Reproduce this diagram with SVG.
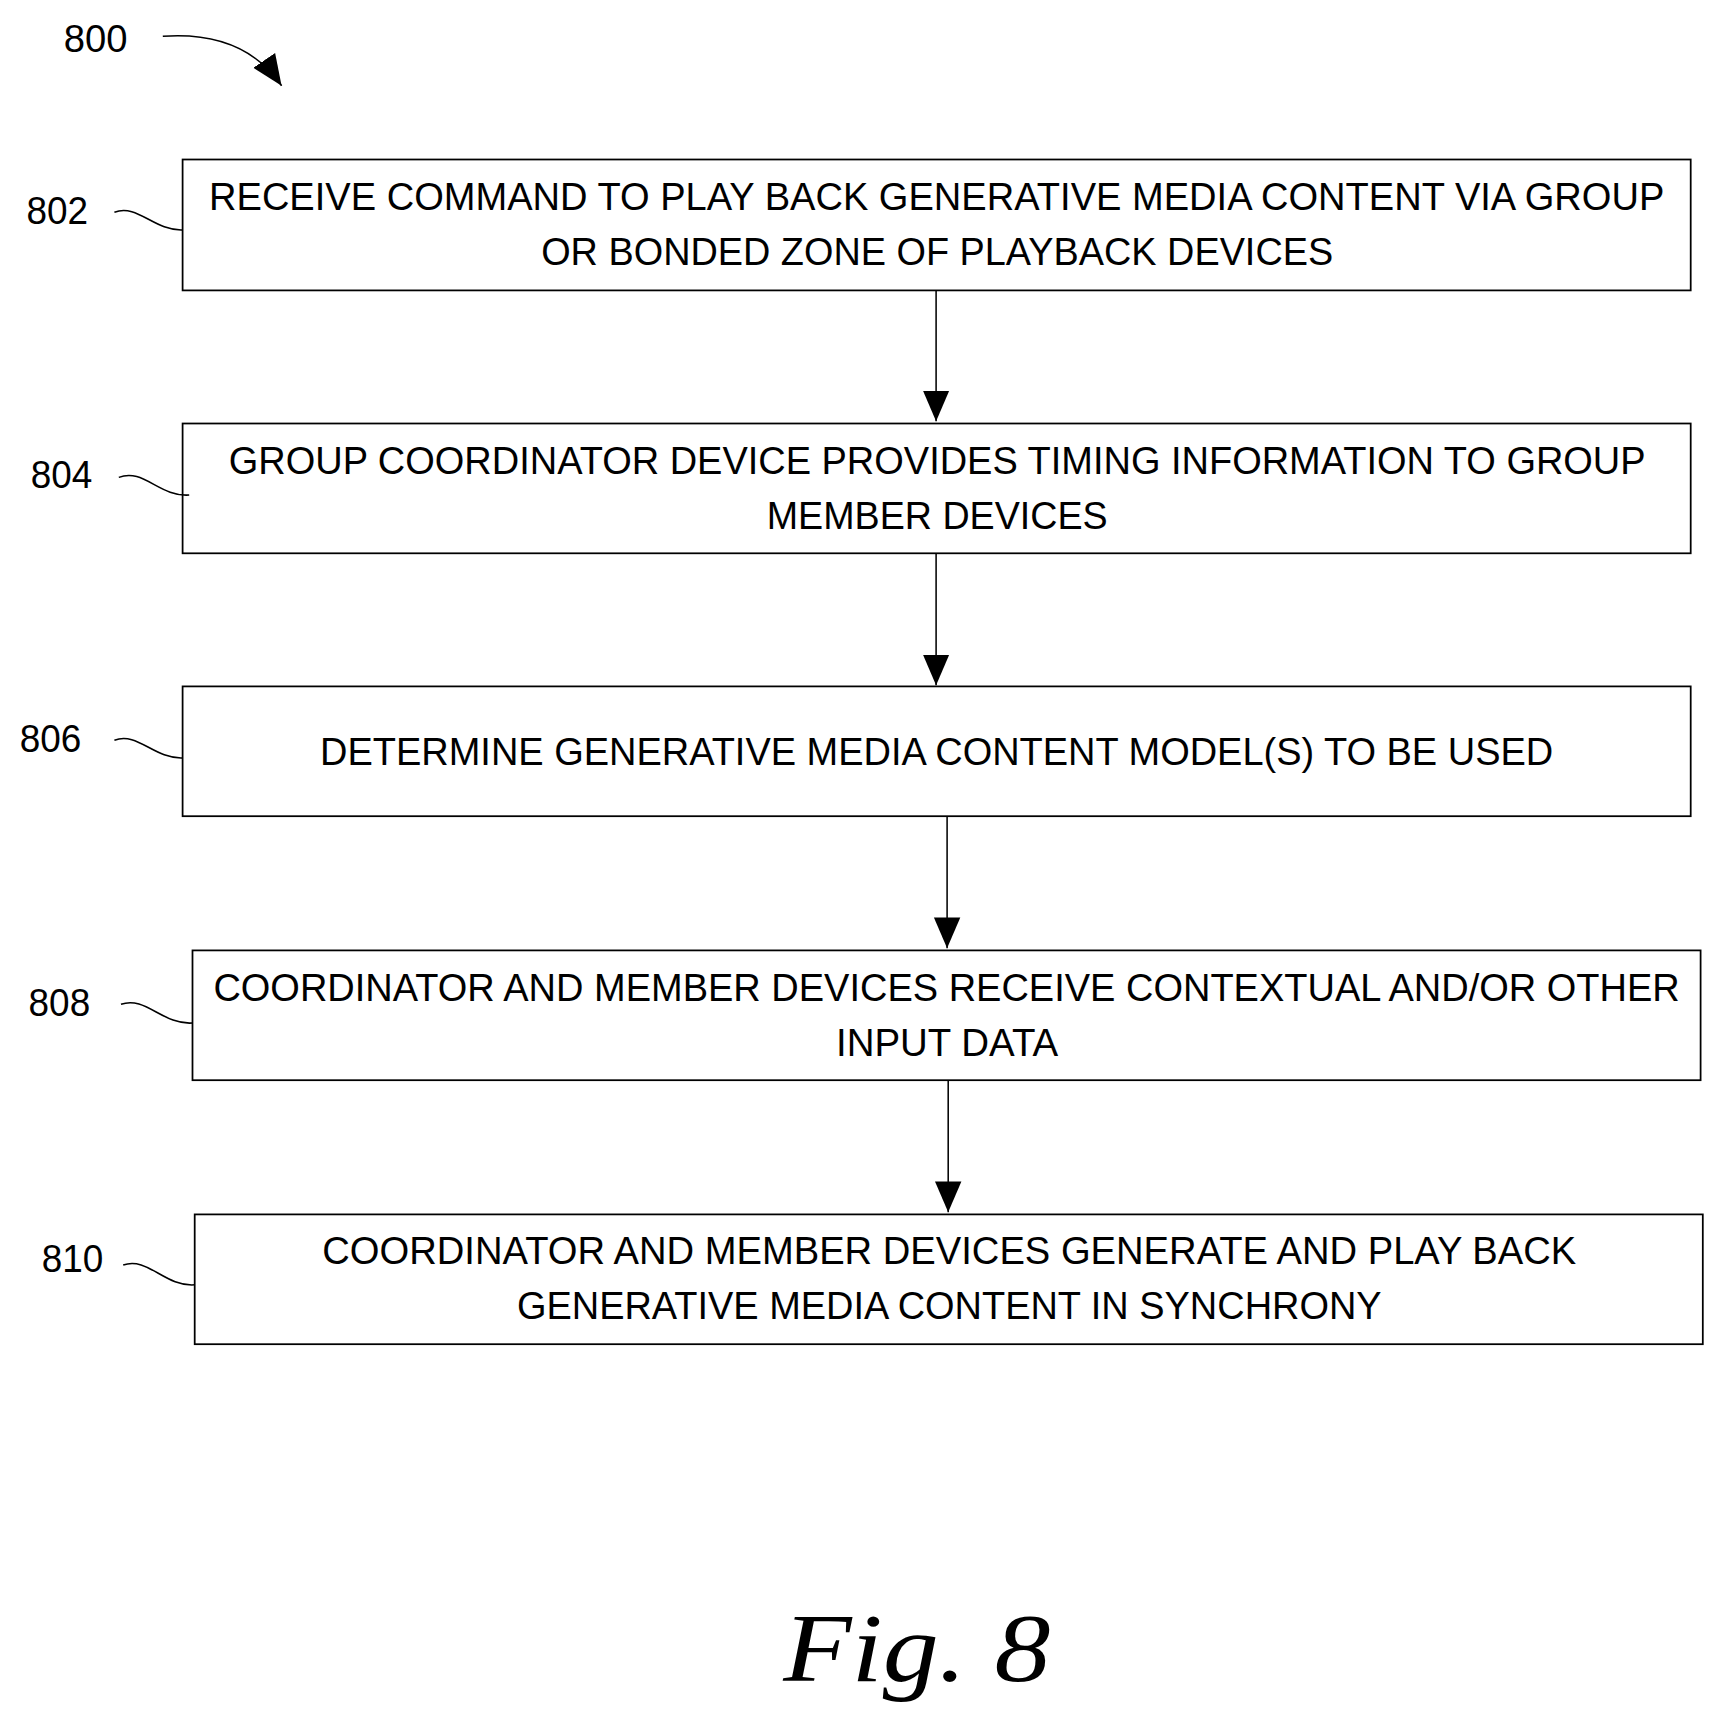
<svg xmlns="http://www.w3.org/2000/svg" width="1716" height="1716" viewBox="0 0 1716 1716">
<style>
.b{fill:#fff;stroke:#000;stroke-width:1.6}
.t{font-family:"Liberation Sans",Arial,sans-serif;font-size:35px;fill:#000}
.l{font-family:"Liberation Sans",Arial,sans-serif;font-size:35px;fill:#000}
.c{fill:none;stroke:#000;stroke-width:1.4}
</style>
<defs>
<marker id="h" markerWidth="28" markerHeight="30" refX="28" refY="15" orient="auto" markerUnits="userSpaceOnUse" viewBox="0 0 28 30"><path d="M0,3 L28,15 L0,27 Z" fill="#000"/></marker></defs>
<rect width="1716" height="1716" fill="#fff"/>
<g transform="scale(1.1)">
<g id="n800"><text class="l" x="58" y="47" textLength="58" lengthAdjust="spacingAndGlyphs">800</text>
<path class="c" d="M148,33 C190,30 230,40 256,78" marker-end="url(#h)"/></g>
<g id="n802"><rect class="b" x="166" y="145" width="1371" height="119"/>
<text class="t" x="190" y="191" textLength="1323" lengthAdjust="spacingAndGlyphs">RECEIVE COMMAND TO PLAY BACK GENERATIVE MEDIA CONTENT VIA GROUP</text>
<text class="t" x="492" y="241" textLength="720" lengthAdjust="spacingAndGlyphs">OR BONDED ZONE OF PLAYBACK DEVICES</text>
<text class="l" x="24" y="204" textLength="56" lengthAdjust="spacingAndGlyphs">802</text>
<path class="c" d="M104,193 C125,185 140,210 166,209"/></g>
<g id="n804"><rect class="b" x="166" y="385" width="1371" height="118"/>
<text class="t" x="208" y="431" textLength="1288" lengthAdjust="spacingAndGlyphs">GROUP COORDINATOR DEVICE PROVIDES TIMING INFORMATION TO GROUP</text>
<text class="t" x="697" y="481" textLength="310" lengthAdjust="spacingAndGlyphs">MEMBER DEVICES</text>
<text class="l" x="28" y="444" textLength="56" lengthAdjust="spacingAndGlyphs">804</text>
<path class="c" d="M108,434 C130,425 145,452 172,450"/></g>
<g id="n806"><rect class="b" x="166" y="624" width="1371" height="118"/>
<text class="t" x="291" y="695" textLength="1121" lengthAdjust="spacingAndGlyphs">DETERMINE GENERATIVE MEDIA CONTENT MODEL(S) TO BE USED</text>
<text class="l" x="18" y="684" textLength="56" lengthAdjust="spacingAndGlyphs">806</text>
<path class="c" d="M104,673 C125,665 140,690 166,689"/></g>
<g id="n808"><rect class="b" x="175" y="864" width="1371" height="118"/>
<text class="t" x="194" y="910" textLength="1333" lengthAdjust="spacingAndGlyphs">COORDINATOR AND MEMBER DEVICES RECEIVE CONTEXTUAL AND/OR OTHER</text>
<text class="t" x="760" y="960" textLength="202" lengthAdjust="spacingAndGlyphs">INPUT DATA</text>
<text class="l" x="26" y="924" textLength="56" lengthAdjust="spacingAndGlyphs">808</text>
<path class="c" d="M110,913 C132,905 148,932 175,930"/></g>
<g id="n810"><rect class="b" x="177" y="1104" width="1371" height="118"/>
<text class="t" x="293" y="1149" textLength="1140" lengthAdjust="spacingAndGlyphs">COORDINATOR AND MEMBER DEVICES GENERATE AND PLAY BACK</text>
<text class="t" x="470" y="1199" textLength="786" lengthAdjust="spacingAndGlyphs">GENERATIVE MEDIA CONTENT IN SYNCHRONY</text>
<text class="l" x="38" y="1156" textLength="56" lengthAdjust="spacingAndGlyphs">810</text>
<path class="c" d="M112,1150 C134,1142 150,1170 177,1168"/></g>
<g id="connectors">
<line class="c" x1="851" y1="264" x2="851" y2="383" marker-end="url(#h)"/>
<line class="c" x1="851" y1="503" x2="851" y2="623" marker-end="url(#h)"/>
<line class="c" x1="861" y1="742" x2="861" y2="862" marker-end="url(#h)"/>
<line class="c" x1="862" y1="982" x2="862" y2="1102" marker-end="url(#h)"/>
</g>
<text x="712" y="1528" font-family="Liberation Serif,serif" font-style="italic" font-size="88" textLength="243" lengthAdjust="spacingAndGlyphs">Fig. 8</text>
</g>
</svg>
